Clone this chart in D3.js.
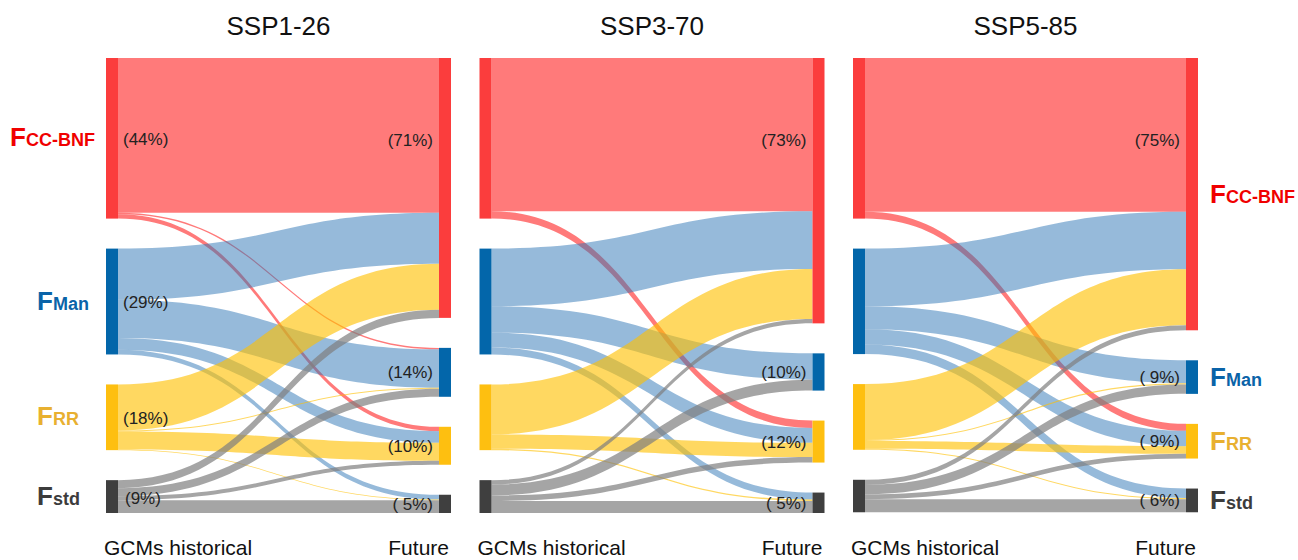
<!DOCTYPE html>
<html>
<head>
<meta charset="utf-8">
<script src="https://cdn.jsdelivr.net/npm/d3@7"></script>
<style>
  body { margin: 0; background: #fff; }
  svg text { font-family: Arial, "Liberation Sans", sans-serif; }
</style>
</head>
<body>
<div id="chart"></div>
<script>
// nodes (same order on both sides)
const nodeNames = ['CC-BNF', 'Man', 'RR', 'std']
const scenarios = ['SSP1-26', 'SSP3-70', 'SSP5-85']
// printed shares
const histShare = [44, 29, 18, 9]
const futureShare = [[71, 14, 10, 5], [73, 10, 12, 5], [75, 9, 9, 6]]
// flows in %: row = historical driver, column = future driver
const flowsSSP126 = [
  [42.4, 0.4, 1.2, 0],
  [14.0, 10.5, 3.2, 1.3],
  [12.6, 0.3, 4.9, 0.2],
  [2.2, 2.2, 1.1, 3.5]
]
const flowsSSP370 = [
  [42.0, 0, 2.0, 0],
  [15.8, 7.2, 4.1, 1.9],
  [13.7, 0, 3.9, 0.4],
  [1.2, 3.0, 1.5, 3.3]
]
const flowsSSP585 = [
  [42.1, 0, 1.9, 0],
  [15.8, 6.3, 4.2, 2.6],
  [15.3, 0.3, 2.1, 0.3],
  [1.4, 2.6, 1.3, 3.6]
]
const flows = [flowsSSP126, flowsSSP370, flowsSSP585]

const width = 1298, height = 560
const topY = 58, innerH = 455, pad = 30, nodeW = 12, panelW = 345

const nodeColors = ['#FB3D3D', '#0366AA', '#FEBF10', '#3F3F3F']
const linkColors = ['#FF0000', '#2E75B6', '#FFC000', '#7F7F7F']
const linkOpacity = [0.52, 0.5, 0.62, 0.7]
const labelColors = ['#F00000', '#0A63A8', '#E8B030', '#3C3C3C']

const svg = d3.select('#chart').append('svg')
  .attr('width', width)
  .attr('height', height)

const panelX = d3.scaleLinear().domain([0, scenarios.length - 1]).range([106, 853])

// 所有面板的最大合计, 决定纵向比例
const maxTotal = d3.max(flows.map(m => d3.sum(m.flat())))
const y = d3.scaleLinear().domain([0, maxTotal]).range([0, innerH - pad * (nodeNames.length - 1)])

function stackNodes(values) {
  let cur = topY
  return values.map(v => {
    const n = { y0: cur, h: y(v) }
    cur += n.h + pad
    return n
  })
}

function ribbon(x0, x1, s0, t0, w) {
  const xm = (x0 + x1) / 2
  return `M${x0},${s0}C${xm},${s0} ${xm},${t0} ${x1},${t0}` +
    `L${x1},${t0 + w}C${xm},${t0 + w} ${xm},${s0 + w} ${x0},${s0 + w}Z`
}

function addLabel(g, x, yb, i) {
  const t = g.append('text')
    .attr('x', x).attr('y', yb)
    .attr('fill', labelColors[i])
    .attr('font-weight', 'bold')
  t.append('tspan').attr('font-size', 26).text('F')
  t.append('tspan').attr('font-size', 18).text(nodeNames[i])
}

// 右侧两位对齐, 左侧不补空格
const fmtPad = v => '(' + String(v).padStart(2, ' ') + '%)'
const fmt = v => '(' + v + '%)'

scenarios.forEach((name, p) => {
  const m = flows[p]
  const xl = panelX(p)
  const xr = xl + panelW - nodeW
  const g = svg.append('g')

  const left = stackNodes(m.map(r => d3.sum(r)))
  const right = stackNodes(nodeNames.map((_, j) => d3.sum(m, r => r[j])))

  // link offsets: at source ordered by target, at target ordered by source
  const srcOff = left.map(n => n.y0)
  const tgtOff = right.map(n => n.y0)
  const links = []
  m.forEach((row, i) => {
    row.forEach((v, j) => {
      links.push({ i, j, v })
    })
  })
  links.forEach(l => { l.s = srcOff[l.i]; srcOff[l.i] += y(l.v) })
  nodeNames.forEach((_, j) => {
    links.filter(l => l.j === j).forEach(l => { l.t = tgtOff[j]; tgtOff[j] += y(l.v) })
  })

  g.selectAll('path.link').data(links.filter(l => l.v > 0)).enter()
    .append('path')
    .attr('class', 'link')
    .attr('d', l => ribbon(xl + nodeW, xr, l.s, l.t, y(l.v)))
    .attr('fill', l => linkColors[l.i])
    .attr('fill-opacity', l => linkOpacity[l.i])

  g.selectAll('rect.left').data(left).enter()
    .append('rect')
    .attr('x', xl).attr('y', d => d.y0)
    .attr('width', nodeW).attr('height', d => d.h)
    .attr('fill', (d, i) => nodeColors[i])

  g.selectAll('rect.right').data(right).enter()
    .append('rect')
    .attr('x', xr).attr('y', d => d.y0)
    .attr('width', nodeW).attr('height', d => d.h)
    .attr('fill', (d, i) => nodeColors[i])

  // future shares
  g.selectAll('text.fut').data(futureShare[p]).enter()
    .append('text')
    .attr('x', xr - 6)
    .attr('y', (d, i) => i === 0 ? left[0].y0 + left[0].h / 2 + 2 : right[i].y0 + right[i].h / 2)
    .attr('dy', '0.35em')
    .attr('text-anchor', 'end')
    .attr('font-size', 17)
    .attr('fill', '#222')
    .style('white-space', 'pre')
    .text(fmtPad)

  // title
  g.append('text')
    .attr('x', xl + panelW / 2).attr('y', 35)
    .attr('text-anchor', 'middle')
    .attr('font-size', 26)
    .attr('fill', '#111')
    .text(name)

  g.append('text')
    .attr('x', xl - 2).attr('y', 555)
    .attr('font-size', 21).attr('fill', '#111')
    .text('GCMs historical')
  g.append('text')
    .attr('x', xr + nodeW - 2).attr('y', 555)
    .attr('text-anchor', 'end')
    .attr('font-size', 21).attr('fill', '#111')
    .text('Future')

  if (p === 0) {
    g.selectAll('text.hist').data(histShare).enter()
      .append('text')
      .attr('x', (d, i) => xl + nodeW + (i === 3 ? 7 : 5))
      .attr('y', (d, i) => left[i].y0 + left[i].h / 2 + 1)
      .attr('dy', '0.35em')
      .attr('font-size', 17)
      .attr('fill', '#222')
      .text(fmt)
    left.forEach((n, i) => {
      addLabel(g, i === 0 ? 10 : 37, n.y0 + n.h / 2 + 8, i)
    })
  }
  if (p === scenarios.length - 1) {
    right.forEach((n, i) => {
      addLabel(g, xr + nodeW + 12, n.y0 + n.h / 2 + 9, i)
    })
  }
})
</script>
</body>
</html>
